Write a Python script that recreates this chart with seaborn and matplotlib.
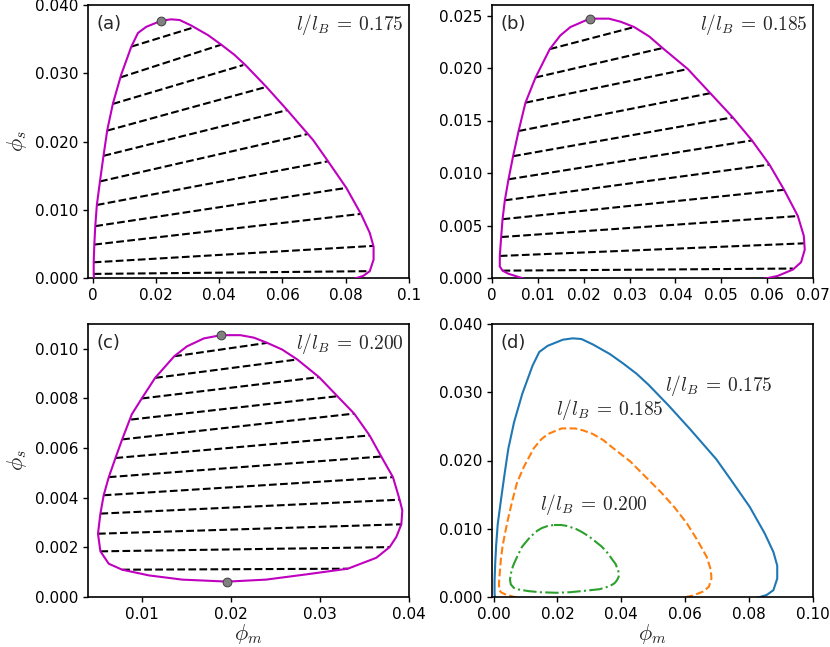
import numpy as np
import pandas as pd
import matplotlib
matplotlib.use("Agg")
import matplotlib.pyplot as plt
from matplotlib.ticker import FormatStrFormatter, MultipleLocator
import seaborn as sns

# ---------------- data ----------------
# binodal (coexistence) curve, l/l_B = 0.175
bin_a_x = [0.0005, 0.0003, 0.0003, 0.0005, 0.0008, 0.0013, 0.0023, 0.0034, 0.0046, 0.0064,
           0.0090, 0.0122, 0.0143, 0.0169, 0.0217, 0.0248, 0.0275, 0.0311, 0.0364, 0.0406,
           0.0448, 0.0485, 0.0549, 0.0615, 0.0697, 0.0744, 0.0802, 0.0849, 0.0876, 0.0888,
           0.0888, 0.0876, 0.0855, 0.0834, 0.0820]
bin_a_y = [-0.0003, 0.0005, 0.0023, 0.0049, 0.0076, 0.0107, 0.0142, 0.0179, 0.0217, 0.0256,
           0.0298, 0.0339, 0.0359, 0.0368, 0.0377, 0.0379, 0.0378, 0.0370, 0.0356, 0.0342,
           0.0327, 0.0311, 0.0280, 0.0246, 0.0202, 0.0171, 0.0132, 0.0093, 0.0066, 0.0046,
           0.0027, 0.0010, 0.0003, 0.0000, -0.0002]
tie_a_lx = [0.0122, 0.0088, 0.0063, 0.0046, 0.0034, 0.0023, 0.0013, 0.0008, 0.0005, 0.0003, 0.0003]
tie_a_ly = [0.0339, 0.0294, 0.0255, 0.0216, 0.0179, 0.01415, 0.0107, 0.0076, 0.0049, 0.0023, 0.0006]
tie_a_rx = [0.0318, 0.0407, 0.0476, 0.0549, 0.0615, 0.0680, 0.0744, 0.0802, 0.0849, 0.0886, 0.0870]
tie_a_ry = [0.0367, 0.0342, 0.0312, 0.0280, 0.0246, 0.0211, 0.0171, 0.0132, 0.0094, 0.0047, 0.0010]
crit_a_x = [0.0217]
crit_a_y = [0.0377]

# l/l_B = 0.185
bin_b_x = [0.0072, 0.0065, 0.0036, 0.0023, 0.0017, 0.0017, 0.0020, 0.0023, 0.0028, 0.0036,
           0.0046, 0.0058, 0.0073, 0.0095, 0.0126, 0.0149, 0.0171, 0.0213, 0.0255, 0.0281,
           0.0310, 0.0343, 0.0372, 0.0427, 0.0476, 0.0525, 0.0567, 0.0605, 0.0637, 0.0667,
           0.0680, 0.0682, 0.0674, 0.0656, 0.0623, 0.0602, 0.0590]
bin_b_y = [-0.0001, 0.0000, 0.0004, 0.0007, 0.0011, 0.0021, 0.0039, 0.0056, 0.0074, 0.0094,
           0.0116, 0.0140, 0.0167, 0.0191, 0.0218, 0.0231, 0.0239, 0.0247, 0.0247, 0.0244,
           0.0239, 0.0230, 0.0219, 0.0199, 0.0176, 0.0153, 0.0131, 0.0108, 0.0084, 0.0059,
           0.0040, 0.0027, 0.0015, 0.0008, 0.0002, 0.0000, -0.0001]
tie_b_lx = [0.0126, 0.0095, 0.0073, 0.0058, 0.0046, 0.0036, 0.0028, 0.0023, 0.0020, 0.0017, 0.0023]
tie_b_ly = [0.0218, 0.0191, 0.0167, 0.0140, 0.0116, 0.0094, 0.0074, 0.0056, 0.0039, 0.0021, 0.0007]
tie_b_rx = [0.0310, 0.0372, 0.0427, 0.0476, 0.0525, 0.0567, 0.0605, 0.0637, 0.0667, 0.0680, 0.0656]
tie_b_ry = [0.0239, 0.0219, 0.0199, 0.0176, 0.0153, 0.0131, 0.0108, 0.0084, 0.0059, 0.0033, 0.0009]
crit_b_x = [0.0213]
crit_b_y = [0.0247]

# l/l_B = 0.200 (closed loop)
bin_c_x = [0.01892, 0.02109, 0.0226, 0.0241, 0.02578, 0.02747, 0.02991, 0.03197, 0.03385, 0.03558,
           0.03689, 0.0382, 0.03895, 0.03925, 0.03914, 0.03858, 0.03783, 0.03633, 0.03314, 0.02845,
           0.02395, 0.01964, 0.01458, 0.01083, 0.00783, 0.00633, 0.00539, 0.00512, 0.00539, 0.00576,
           0.00633, 0.00708, 0.00783, 0.00891, 0.01003, 0.01153, 0.01367, 0.0151, 0.0170, 0.01892]
bin_c_y = [0.01055, 0.01055, 0.01045, 0.01024, 0.00997, 0.00957, 0.00886, 0.00809, 0.00739, 0.00651,
           0.00566, 0.00483, 0.00392, 0.00349, 0.00293, 0.00242, 0.00201, 0.00158, 0.00114, 0.00091,
           0.0007, 0.00062, 0.0007, 0.00087, 0.0011, 0.00134, 0.00184, 0.00255, 0.00336, 0.0041,
           0.00483, 0.0056, 0.00635, 0.00736, 0.0080, 0.00883, 0.0097, 0.0101, 0.01042, 0.01055]
tie_c_lx = [0.01367, 0.01153, 0.01003, 0.00884, 0.00783, 0.00708, 0.00633, 0.00576, 0.00539, 0.00512, 0.00539, 0.00783]
tie_c_ly = [0.0097, 0.00883, 0.0080, 0.00715, 0.00635, 0.0056, 0.00483, 0.0041, 0.00336, 0.00255, 0.00184, 0.0011]
tie_c_rx = [0.0241, 0.02747, 0.02991, 0.03197, 0.03385, 0.03558, 0.03689, 0.0382, 0.03895, 0.03914, 0.03783, 0.03314]
tie_c_ry = [0.01024, 0.00957, 0.00886, 0.00809, 0.00739, 0.00651, 0.00566, 0.00483, 0.00392, 0.00293, 0.00201, 0.00114]
crit_c_x = [0.01892, 0.01964]
crit_c_y = [0.01055, 0.00062]

ratios = ["0.175", "0.185", "0.200"]
panel_tags = ["(a)", "(b)", "(c)", "(d)"]

# ---------------- style ----------------
sns.set_style("ticks")
plt.rcParams["font.family"] = ["DejaVu Sans"]
plt.rcParams["mathtext.fontset"] = "cm"
plt.rcParams["axes.linewidth"] = 1.2
plt.rcParams["xtick.labelsize"] = 11
plt.rcParams["ytick.labelsize"] = 11
plt.rcParams["xtick.major.width"] = 1.0
plt.rcParams["ytick.major.width"] = 1.0
plt.rcParams["xtick.color"] = "black"
plt.rcParams["ytick.color"] = "black"
plt.rcParams["axes.edgecolor"] = "black"

fig = plt.figure(figsize=(8.3, 6.47), dpi=100)
W, H = 830.0, 647.0
def add_ax(l, r, t, b):
    return fig.add_axes([l / W, 1 - b / H, (r - l) / W, (b - t) / H])

ax_a = add_ax(88, 409, 5, 278)
ax_b = add_ax(492, 813, 5, 278)
ax_c = add_ax(88, 409, 324, 597)
ax_d = add_ax(492, 813, 324, 597)


def ratio_label(r):
    return r"$l/l_B\:=\:%s$" % r


def tie_frame(lx, ly, rx, ry):
    rows = []
    for i in range(len(lx)):
        rows.append(dict(x=lx[i], y=ly[i], tie=i))
        rows.append(dict(x=rx[i], y=ry[i], tie=i))
    return pd.DataFrame(rows)


def draw_phase(ax, bx, by, lx, ly, rx, ry, cx, cy, tag, ratio):
    sns.lineplot(data=tie_frame(lx, ly, rx, ry), x="x", y="y", units="tie",
                 estimator=None, sort=False, color="black", linestyle="--",
                 linewidth=1.5, ax=ax, zorder=2)
    sns.lineplot(x=bx, y=by, sort=False, estimator=None, color="m",
                 linewidth=1.5, ax=ax, zorder=3)
    sns.scatterplot(x=cx, y=cy, color="#808080", edgecolor="#404040", linewidth=0.7,
                    s=40, ax=ax, zorder=4)
    ax.text(0.025, 0.93, tag, transform=ax.transAxes, fontsize=13,
            ha="left", va="center")
    ax.text(0.985, 0.93, ratio_label(ratio), transform=ax.transAxes,
            fontsize=14, ha="right", va="center")
    ax.set_xlabel("")
    ax.set_ylabel("")


draw_phase(ax_a, bin_a_x, bin_a_y, tie_a_lx, tie_a_ly, tie_a_rx, tie_a_ry,
           crit_a_x, crit_a_y, panel_tags[0], ratios[0])
ax_a.set_xlim(-0.0015, 0.1)
ax_a.set_ylim(0, 0.04)
ax_a.xaxis.set_major_locator(MultipleLocator(0.02))
ax_a.xaxis.set_major_formatter(FormatStrFormatter("%g"))
ax_a.yaxis.set_major_locator(MultipleLocator(0.01))
ax_a.yaxis.set_major_formatter(FormatStrFormatter("%.3f"))

draw_phase(ax_b, bin_b_x, bin_b_y, tie_b_lx, tie_b_ly, tie_b_rx, tie_b_ry,
           crit_b_x, crit_b_y, panel_tags[1], ratios[1])
ax_b.set_xlim(0, 0.07)
ax_b.set_ylim(0, 0.026)
ax_b.xaxis.set_major_locator(MultipleLocator(0.01))
ax_b.xaxis.set_major_formatter(FormatStrFormatter("%g"))
ax_b.yaxis.set_major_locator(MultipleLocator(0.005))
ax_b.yaxis.set_major_formatter(FormatStrFormatter("%.3f"))

draw_phase(ax_c, bin_c_x, bin_c_y, tie_c_lx, tie_c_ly, tie_c_rx, tie_c_ry,
           crit_c_x, crit_c_y, panel_tags[2], ratios[2])
ax_c.set_xlim(0.004, 0.04)
ax_c.set_ylim(0, 0.011)
ax_c.set_xticks([0.01, 0.02, 0.03, 0.04])
ax_c.xaxis.set_major_formatter(FormatStrFormatter("%g"))
ax_c.yaxis.set_major_locator(MultipleLocator(0.002))
ax_c.yaxis.set_major_formatter(FormatStrFormatter("%.3f"))

# panel (d): all three binodals
palette = sns.color_palette("tab10")
curves = [(bin_a_x, bin_a_y, "-"), (bin_b_x, bin_b_y, "--"), (bin_c_x, bin_c_y, "-.")]
for i, (bx, by, ls) in enumerate(curves):
    sns.lineplot(x=bx, y=by, sort=False, estimator=None, color=palette[i],
                 linestyle=ls, linewidth=1.5, ax=ax_d)
label_x = [0.0705, 0.0363, 0.0315]
label_y = [0.0310, 0.0275, 0.01355]
for i in range(3):
    ax_d.text(label_x[i], label_y[i], ratio_label(ratios[i]), fontsize=14,
              ha="center", va="center")
ax_d.text(0.025, 0.93, panel_tags[3], transform=ax_d.transAxes, fontsize=13,
          ha="left", va="center")
ax_d.set_xlim(-0.0005, 0.1)
ax_d.set_ylim(0, 0.04)
ax_d.xaxis.set_major_locator(MultipleLocator(0.02))
ax_d.xaxis.set_major_formatter(FormatStrFormatter("%.2f"))
ax_d.yaxis.set_major_locator(MultipleLocator(0.01))
ax_d.yaxis.set_major_formatter(FormatStrFormatter("%.3f"))

ax_a.set_ylabel(r"$\phi_s$", fontsize=16)
ax_c.set_ylabel(r"$\phi_s$", fontsize=16)
ax_c.set_xlabel(r"$\phi_m$", fontsize=16, labelpad=0)
ax_d.set_xlabel(r"$\phi_m$", fontsize=16, labelpad=0)
ax_b.set_xlabel("")
ax_d.set_ylabel("")

for ax in (ax_a, ax_b, ax_c, ax_d):
    for sp in ax.spines.values():
        sp.set_visible(True)
        sp.set_color("black")

fig.savefig("out.png", dpi=100)
